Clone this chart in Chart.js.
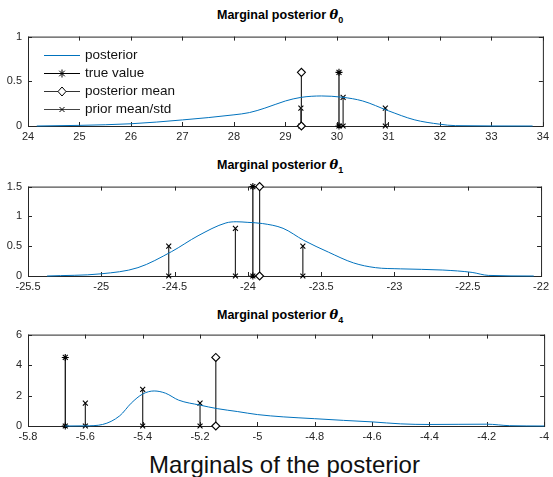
<!DOCTYPE html>
<html>
<head>
<meta charset="utf-8">
<script src="https://cdn.jsdelivr.net/npm/chart.js@4.4.1/dist/chart.umd.min.js"></script>
<style>
  body { margin: 0; background: #fff; }
  #fig { position: relative; width: 553px; height: 477px; overflow: hidden; font-family: "Liberation Sans", Arial, sans-serif; color: #000; }
  canvas { position: absolute; left: 0; }
  .ttl { position: absolute; left: 217px; font-weight: bold; font-size: 12.5px; line-height: 14px; white-space: nowrap; }
  .ttl i { font-family: "DejaVu Serif", serif; font-size: 13px; }
  .ttl sub { font-size: 9px; vertical-align: -4px; line-height: 0; }
  .xlab { position: absolute; left: 8px; width: 553px; top: 451px; text-align: center; font-size: 24px; line-height: 28px; color: #111; }
  .leg { position: absolute; left: 44px; height: 18px; line-height: 18px; font-size: 13.5px; white-space: nowrap; color: #111; }
  .leg svg { vertical-align: top; margin-right: 5px; }
</style>
</head>
<body>
<div id="fig">
  <div class="ttl" style="top:8px">Marginal posterior <i>θ</i><sub>0</sub></div>
  <canvas id="c0" width="553" height="124" style="top:24px"></canvas>
  <div class="ttl" style="top:158px">Marginal posterior <i>θ</i><sub>1</sub></div>
  <canvas id="c1" width="553" height="124" style="top:174px"></canvas>
  <div class="ttl" style="top:308px">Marginal posterior <i>θ</i><sub>4</sub></div>
  <canvas id="c2" width="553" height="126" style="top:322px"></canvas>
  <div class="xlab">Marginals of the posterior</div>

  <div class="leg" style="top:46px"><svg width="36" height="18"><line x1="0" y1="9.5" x2="36" y2="9.5" stroke="#0072BD"/></svg>posterior</div>
  <div class="leg" style="top:64px"><svg width="36" height="18"><line x1="0" y1="9.5" x2="36" y2="9.5" stroke="#000"/><path d="M18 5.5V13.5M14 9.5H22M15.2 6.7L20.8 12.3M20.8 6.7L15.2 12.3" stroke="#000"/></svg>true value</div>
  <div class="leg" style="top:82px"><svg width="36" height="18"><line x1="0" y1="9.5" x2="36" y2="9.5" stroke="#333"/><path d="M18 5L22 9.5L18 14L14 9.5Z" fill="#fff" stroke="#000"/></svg>posterior mean</div>
  <div class="leg" style="top:100px"><svg width="36" height="18"><line x1="0" y1="9.5" x2="36" y2="9.5" stroke="#444"/><path d="M15.5 7L20.5 12M20.5 7L15.5 12" stroke="#000"/></svg>prior mean/std</div>
</div>
<script>
// theta_0
const postX0 = [24.17, 25, 26, 27, 28, 28.3, 28.6, 29, 29.3, 29.7, 30.1, 30.5, 31, 31.5, 32, 32.3, 33.8];
const postY0 = [0, 0.007, 0.025, 0.068, 0.125, 0.15, 0.2, 0.28, 0.32, 0.336, 0.322, 0.28, 0.17, 0.07, 0.02, 0.004, 0];
const trueX0 = [30.04], trueH0 = [0.6];
const meanX0 = [29.31], meanH0 = [0.6];
const priorX0 = [29.30, 30.12, 30.94], priorH0 = [0.2, 0.32, 0.2];
const xTicks0 = [24, 25, 26, 27, 28, 29, 30, 31, 32, 33, 34];
const yTicks0 = [0, 0.5, 1];

// theta_1
const postX1 = [-25.37, -25, -24.75, -24.52, -24.34, -24.15, -24.08, -24.0, -23.9, -23.76, -23.62, -23.45, -23.28, -23.13, -22.96, -22.67, -22.47, -22.36, -22.05];
const postY1 = [0, 0.037, 0.14, 0.41, 0.675, 0.89, 0.91, 0.9, 0.88, 0.8, 0.6, 0.4, 0.22, 0.14, 0.12, 0.1, 0.06, 0.01, 0];
const trueX1 = [-23.966], trueH1 = [1.5];
const meanX1 = [-23.92], meanH1 = [1.5];
const priorX1 = [-24.54, -24.085, -23.625], priorH1 = [0.5, 0.8, 0.5];
const xTicks1 = [-25.5, -25, -24.5, -24, -23.5, -23, -22.5, -22];
const yTicks1 = [0, 0.5, 1, 1.5];

// theta_4
const postX2 = [-5.67, -5.6, -5.54, -5.48, -5.44, -5.4, -5.36, -5.32, -5.275, -5.2, -5.14, -5.07, -5.0, -4.91, -4.8, -4.7, -4.6, -4.5, -4.4, -4.3, -4.2, -4.12, -4.0];
const postY2 = [0, 0.01, 0.1, 0.67, 1.5, 2.1, 2.3, 2.15, 1.7, 1.37, 1.14, 0.95, 0.75, 0.6, 0.48, 0.37, 0.27, 0.14, 0.1, 0.11, 0.12, 0.02, 0];
const trueX2 = [-5.67], trueH2 = [4.5];
const meanX2 = [-5.145], meanH2 = [4.5];
const priorX2 = [-5.6, -5.4, -5.2], priorH2 = [1.5, 2.4, 1.5];
const xTicks2 = [-5.8, -5.6, -5.4, -5.2, -5, -4.8, -4.6, -4.4, -4.2, -4];
const yTicks2 = [0, 2, 4, 6];

const AXIS = '#262626';

// box with inward ticks on all four sides, like matlab
const matlabBox = {
  id: 'matlabBox',
  beforeDatasetsDraw(chart) {
    const { ctx, chartArea: a, scales: { x, y } } = chart;
    ctx.save();
    ctx.strokeStyle = AXIS;
    ctx.lineWidth = 1;
    ctx.beginPath();
    x.ticks.forEach(t => {
      const px = Math.round(x.getPixelForValue(t.value)) + 0.5;
      ctx.moveTo(px, a.bottom); ctx.lineTo(px, a.bottom - 4);
      ctx.moveTo(px, a.top); ctx.lineTo(px, a.top + 4);
    });
    y.ticks.forEach(t => {
      const py = Math.round(y.getPixelForValue(t.value)) + 0.5;
      ctx.moveTo(a.left, py); ctx.lineTo(a.left + 4, py);
      ctx.moveTo(a.right, py); ctx.lineTo(a.right - 4, py);
    });
    ctx.stroke();
    ctx.strokeRect(a.left + 0.5, a.top + 0.5, a.right - a.left, a.bottom - a.top);
    ctx.restore();
  }
};

function stems(xs, hs, color, style, radius, fill) {
  return xs.map((v, i) => ({
    data: [{ x: v, y: 0 }, { x: v, y: hs[i] }],
    showLine: true,
    borderColor: color,
    borderWidth: 1.2,
    pointStyle: style,
    pointRadius: radius,
    pointBorderColor: '#000',
    pointBackgroundColor: fill,
    pointBorderWidth: 1.1,
    clip: false
  }));
}

function makeChart(id, px, py, tx, ty, tr, mn, pr, xmin, xmax, ymax) {
  const datasets = [{
    data: px.map((v, i) => ({ x: v, y: py[i] })),
    showLine: true,
    borderColor: '#0072BD',
    borderWidth: 1,
    pointRadius: 0,
    cubicInterpolationMode: 'monotone',
    clip: false
  }]
    .concat(stems(tr[0], tr[1], '#000', 'star', 3.5, '#000'))
    .concat(stems(mn[0], mn[1], '#2a2a2a', 'rectRot', 4, '#fff'))
    .concat(stems(pr[0], pr[1], '#2a2a2a', 'crossRot', 3.5, '#000'));

  const tickFont = { family: '"Liberation Sans", Arial, sans-serif', size: 11 };
  return new Chart(document.getElementById(id), {
    type: 'scatter',
    data: { datasets },
    options: {
      responsive: false,
      animation: false,
      devicePixelRatio: 1,
      layout: { padding: { top: 8, right: 8, left: 0, bottom: 0 } },
      plugins: { legend: { display: false }, tooltip: { enabled: false } },
      scales: {
        x: {
          type: 'linear', min: xmin, max: xmax,
          grid: { display: false, drawTicks: false },
          border: { display: false },
          afterBuildTicks: s => { s.ticks = tx.map(v => ({ value: v })); },
          afterFit: s => { s.height = 22; },
          ticks: { font: tickFont, color: AXIS, padding: 4, maxRotation: 0, autoSkip: false, callback: v => String(v) }
        },
        y: {
          type: 'linear', min: 0, max: ymax,
          grid: { display: false, drawTicks: false },
          border: { display: false },
          afterBuildTicks: s => { s.ticks = ty.map(v => ({ value: v })); },
          afterFit: s => { s.width = 28; },
          ticks: { font: tickFont, color: AXIS, padding: 6, callback: v => String(v) }
        }
      }
    },
    plugins: [matlabBox]
  });
}

makeChart('c0', postX0, postY0, xTicks0, yTicks0, [trueX0, trueH0], [meanX0, meanH0], [priorX0, priorH0], 24, 34, 1);
makeChart('c1', postX1, postY1, xTicks1, yTicks1, [trueX1, trueH1], [meanX1, meanH1], [priorX1, priorH1], -25.5, -22, 1.5);
makeChart('c2', postX2, postY2, xTicks2, yTicks2, [trueX2, trueH2], [meanX2, meanH2], [priorX2, priorH2], -5.8, -4, 6);
</script>
</body>
</html>
